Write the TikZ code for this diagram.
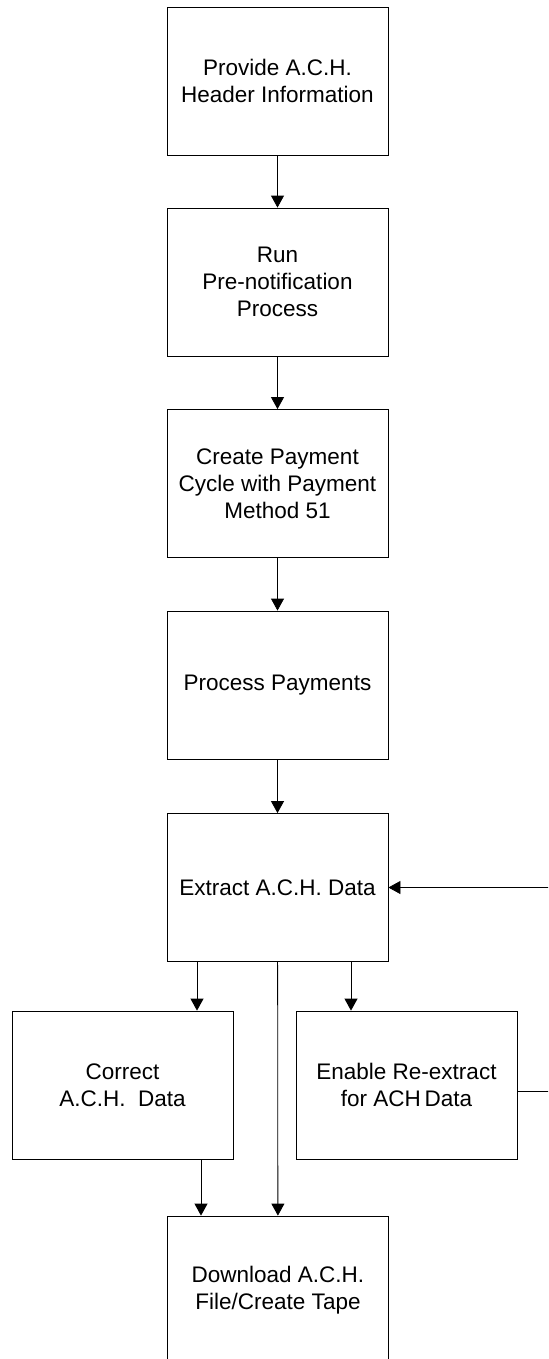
\documentclass[tikz,border=0pt]{standalone}
\usepackage{fontspec}
\setmainfont{Liberation Sans}
\usetikzlibrary{arrows.meta}
\begin{document}
\begin{tikzpicture}[x=0.5pt,y=-0.5pt,>={Triangle[length=6pt,width=6.5pt]},
    box/.style={draw,align=center,minimum width=110.5pt,minimum height=74pt,inner sep=2pt},
    font=\fontsize{11.25}{13.5}\selectfont]
\useasboundingbox (0,0) rectangle (548,1359);
\clip (0,0) rectangle (548,1359);

\foreach \y/\name/\txt in {81/head/{Provide A.C.H.\\Header Information},
    282/prenote/{Run\\Pre-notification\\Process},
    483.5/cycle/{Create Payment\\Cycle with Payment\\Method 51},
    685/pay/{Process Payments},
    887.5/extract/{Extract A.C.H. Data}}{
    \node at (277.5,\y)(\name)[box]{\txt};
}
\node at (122.5,1085)(correct)[box]{Correct\\A.C.H.\ \ Data};
\node at (406.5,1085)(enable)[box]{Enable Re-extract\\for ACH\,Data};
\node at (278,1290)(download)[box]{Download A.C.H.\\File/Create Tape};

\foreach \a/\b in {head/prenote,prenote/cycle,cycle/pay,pay/extract}{
    \path[draw,->] (\a) -- (\b);
}
\path[draw,->] ([xshift=-40.25pt]extract.south) -- ([xshift=-40.25pt]extract.south |- correct.north);
\path[draw,->] ([xshift=36.75pt]extract.south) -- ([xshift=36.75pt]extract.south |- enable.north);
\path[draw,->] (extract) -- (download);
\path[draw,->] ([xshift=-38.5pt]download.north |- correct.south) -- ([xshift=-38.5pt]download.north);
\path[draw,->] ([yshift=-3pt]enable.east) -- ++(40pt,0) |- (extract.east);
\end{tikzpicture}
\end{document}
